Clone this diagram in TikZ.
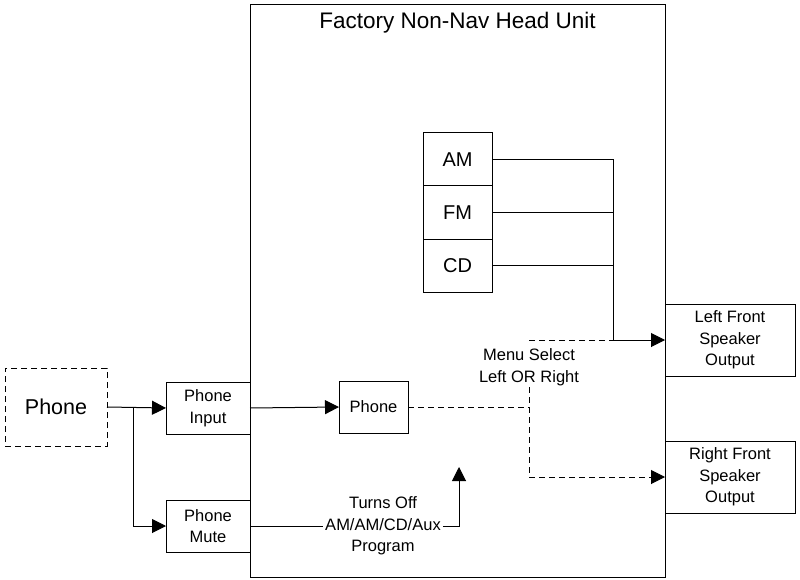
\documentclass[tikz,border=0pt]{standalone}
\usepackage{fontspec}
\setmainfont{Liberation Sans}
\usetikzlibrary{arrows.meta,positioning}

\begin{document}
\begin{tikzpicture}[x=1pt,y=-1pt,line width=1pt,
 every node/.style={outer sep=0pt},
 blk/.style={draw,line width=1pt,align=center,font=\fontsize{16.5}{21.5}\selectfont},
 big/.style={font=\fontsize{20}{24}\selectfont},
 txt/.style={align=center,inner sep=2pt,font=\fontsize{16.5}{21.5}\selectfont},
 dsh/.style={dash pattern=on 6pt off 4pt},
 arr/.style={-{Triangle[length=14pt,width=14pt]}},
 node distance=0pt]
\useasboundingbox (0,0) rectangle (800,580);

  % head unit
  \node[draw,minimum width=415,minimum height=572] (hu) at (457.5,291) {};
  \node[font=\fontsize{22.5}{26}\selectfont,below=4pt of hu.north] (title) {Factory Non-Nav Head Unit};

  % sources
  \node[blk,big,minimum width=69,minimum height=53] (am) at (457.5,159.5) {AM};
  \node[blk,big,minimum width=69,minimum height=53,below=of am] (fm) {FM};
  \node[blk,big,minimum width=69,minimum height=53,below=of fm] (cd) {CD};

  % outputs
  \node[blk,minimum width=130,minimum height=72] (lf) at (730,340) {Left Front\\Speaker\\Output};
  \node[blk,minimum width=130,minimum height=72] (rf) at (730,477) {Right Front\\Speaker\\Output};

  % phone chain
  \node[blk,dsh,font=\fontsize{21.5}{25}\selectfont,minimum width=102,minimum height=78] (ph) at (56,407) {Phone};
  \node[blk,minimum width=84,minimum height=52] (pin) at (208,408) {Phone\\Input};
  \node[blk,minimum width=84,minimum height=52] (pmute) at (208,526) {Phone\\Mute};
  \node[blk,minimum width=69,minimum height=52] (phone) at (373.5,407) {Phone};

  \node[txt] (menu) at (529,367) {Menu Select\\Left OR Right};
  \node[txt] (turns) at (383,526) {Turns Off\\AM/AM/CD/Aux\\Program};

  \coordinate (bus) at (613,340);
  \coordinate (sel) at (529,340);
  \coordinate (split) at (529,407);
  \coordinate (fork) at (133,407);
  \coordinate (mutetip) at (459,467);

\draw (am.east) -| (bus);
\draw (fm.east) -| (bus);
\draw (cd.east) -| (bus);
\draw [arr] (bus) -- (lf.west);
\draw [dsh] (sel) -- (bus);

\draw [dsh] (phone.east) -- (split);
\draw [dsh,arr] (menu.south) |- (rf.west);

\draw [arr] (ph.east) -- (pin.west);
\draw [arr] (fork) |- (pmute.west);
\draw [arr] (pin.east) -- (phone.west);
\draw (pmute.east) -- (turns.west);
\draw [arr] (turns.east) -| (mutetip);

\end{tikzpicture}
\end{document}
